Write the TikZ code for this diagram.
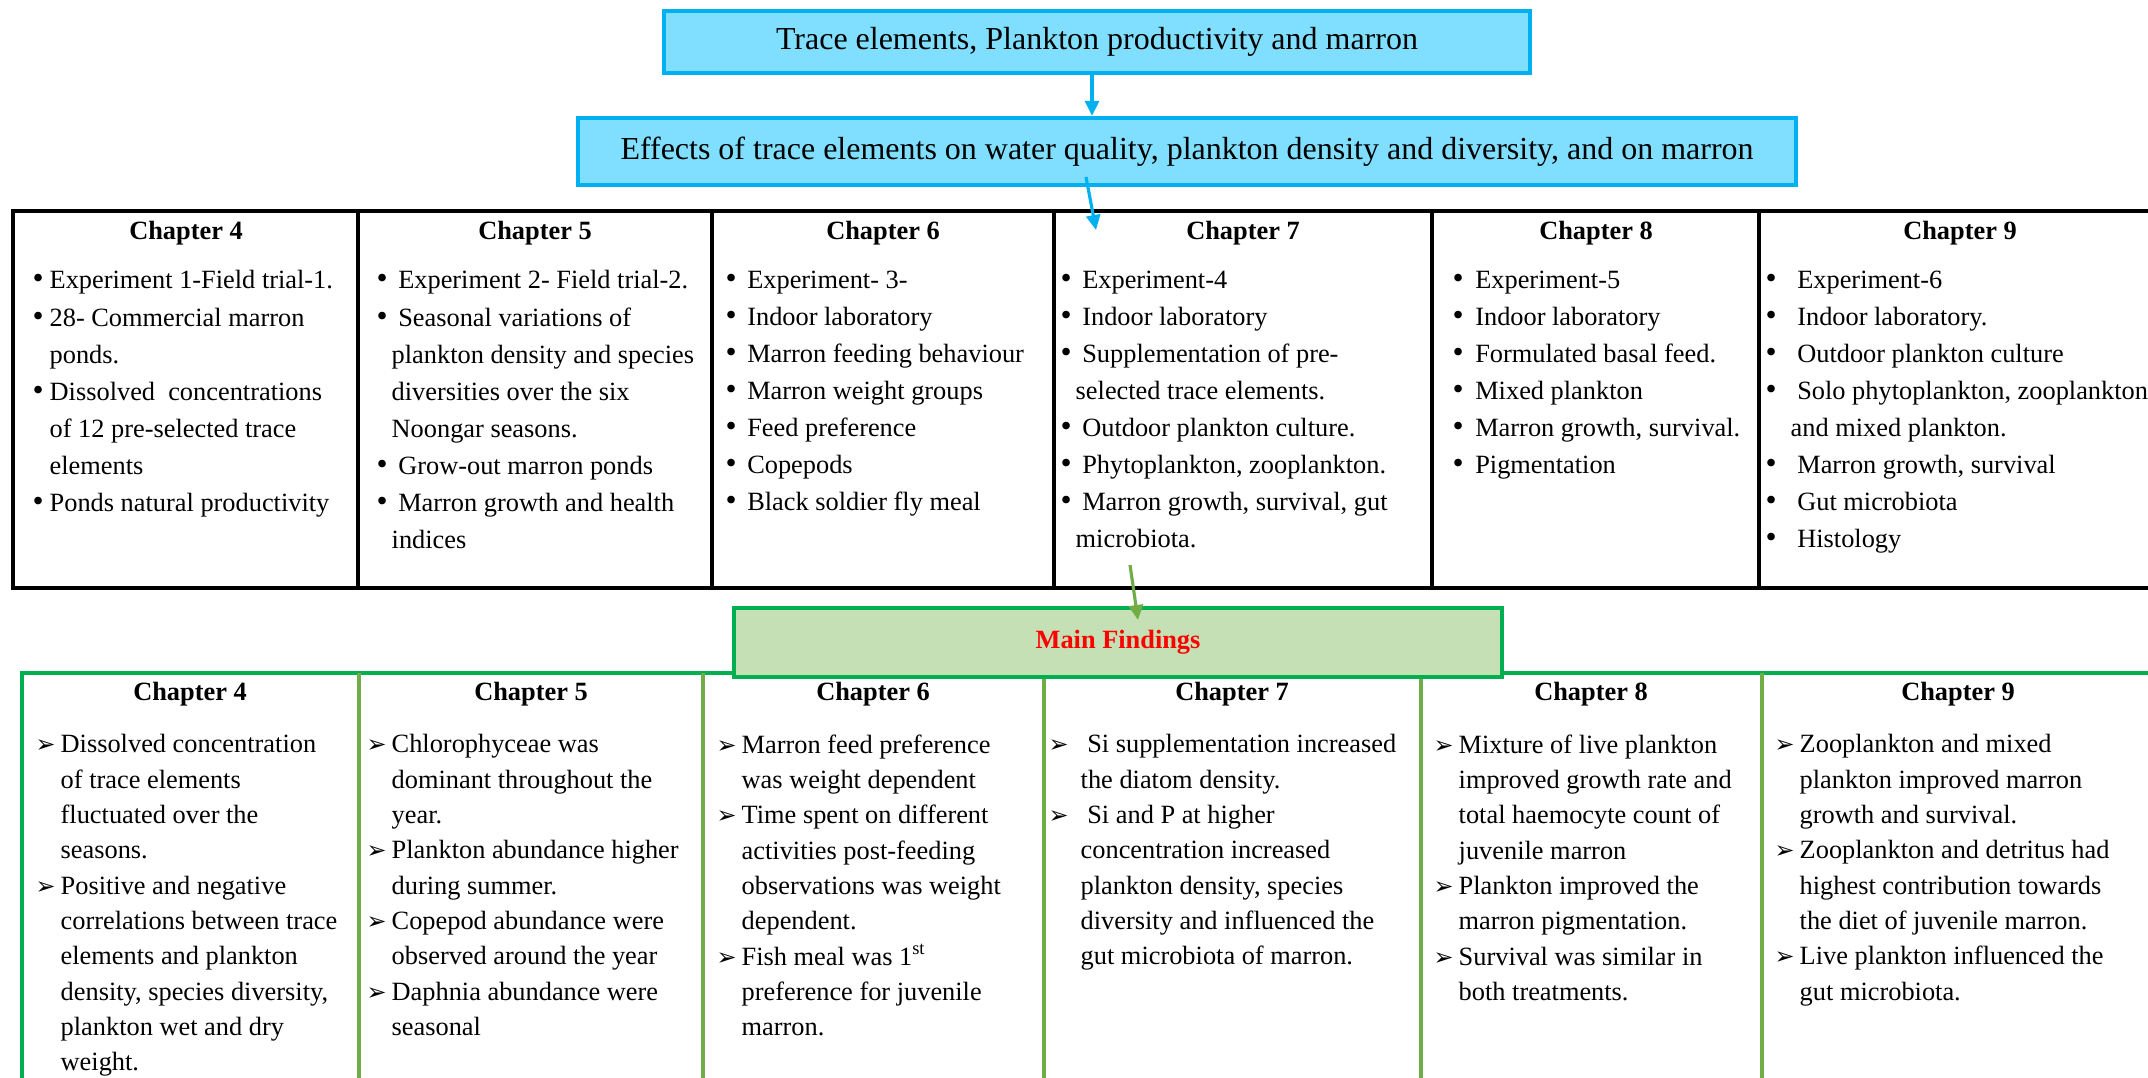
\documentclass[tikz,border=0pt]{standalone}
\usepackage{fontspec}
\setmainfont{Liberation Serif}
\newfontfamily\dingfont{DejaVu Sans}
\usetikzlibrary{arrows.meta}

\definecolor{skyfill}{HTML}{80DFFF}
\definecolor{skyline}{HTML}{00B0F0}
\definecolor{leafline}{HTML}{00B050}
\definecolor{leafdiv}{HTML}{70AD47}
\definecolor{leaffill}{HTML}{C5E0B4}

\newcommand{\bul}[1][0.06cm]{\llap{{\fontsize{9}{9}\selectfont\textbullet}\hspace{#1}}}
\newcommand{\arr}[1][0.05cm]{\llap{{\dingfont\fontsize{6.8}{6.8}\selectfont ➢}\hspace{#1}}}

\tikzset{
  headbox/.style={draw=skyline, line width=1.2pt, fill=skyfill, inner sep=0pt,
    font=\fontsize{9.1}{11}\selectfont},
  chaptitle/.style={anchor=base, inner sep=0pt, font=\bfseries\fontsize{7.5}{9}\selectfont},
  toplist/.style={anchor=north west, align=left, inner sep=0pt,
    font=\fontsize{7.5}{10.55}\selectfont},
  findlist/.style={anchor=north west, align=left, inner sep=0pt,
    font=\fontsize{7.5}{10.05}\selectfont},
  bluearrow/.style={skyline, line width=0.9pt, -{Triangle[length=0.15cm,width=0.14cm]}},
  greenarrow/.style={leafdiv, line width=0.9pt, -{Triangle[length=0.15cm,width=0.14cm]}}
}

\begin{document}
\begin{tikzpicture}
\useasboundingbox (0,0) rectangle (21.48,-10.78);
\clip (0,0) rectangle (21.48,-10.78);

% top boxes
\node[headbox, minimum width=8.66cm, minimum height=0.62cm] (title) at (10.97,-0.42)
  {Trace elements, Plankton productivity and marron};
\node[headbox, minimum width=12.18cm, minimum height=0.67cm] (effects) at (11.87,-1.515)
  {Effects of trace elements on water quality, plankton density and diversity, and on marron};
\draw[bluearrow] ([xshift=-0.05cm]title.south) -- ([xshift=-0.05cm]title.south |- effects.north);

% experiments table
\draw[line width=1.4pt] (0.13,-2.11) rectangle (21.61,-5.88);
\foreach \x in {3.58,7.12,10.54,14.32,17.59}
  \draw[line width=0.9pt] (\x,-2.11) -- (\x,-5.88);
\foreach \x/\n in {1.86/4,5.35/5,8.83/6,12.43/7,15.96/8,19.60/9}
  \node[chaptitle] (exp\n) at (\x,-2.40) {Chapter \n};

\node[toplist] (list4) at (0.49,-2.70) {\bul Experiment 1-Field trial-1.\\
  \bul 28- Commercial marron\\ ponds.\\
  \bul Dissolved\ \ concentrations\\ of 12 pre-selected trace\\ elements\\
  \bul Ponds natural productivity};
\node[toplist] (list5) at (3.91,-2.70) {\bul[0.04cm] Experiment 2- Field trial-2.\\
  \bul[0.04cm] Seasonal variations of\\ plankton density and species\\
  diversities over the six\\ Noongar seasons.\\
  \bul[0.04cm] Grow-out marron ponds\\
  \bul[0.04cm] Marron growth and health\\ indices};
\node[toplist] (list6) at (7.40,-2.70) {\bul[0.04cm] Experiment- 3-\\
  \bul[0.04cm] Indoor laboratory\\
  \bul[0.04cm] Marron feeding behaviour\\
  \bul[0.04cm] Marron weight groups\\
  \bul[0.04cm] Feed preference\\
  \bul[0.04cm] Copepods\\
  \bul[0.04cm] Black soldier fly meal};
\node[toplist] (list7) at (10.75,-2.70) {\bul[0.04cm] Experiment-4\\
  \bul[0.04cm] Indoor laboratory\\
  \bul[0.04cm] Supplementation of pre-\\ selected trace elements.\\
  \bul[0.04cm] Outdoor plankton culture.\\
  \bul[0.04cm] Phytoplankton, zooplankton.\\
  \bul[0.04cm] Marron growth, survival, gut\\ microbiota.};
\node[toplist] (list8) at (14.68,-2.70) {\bul[0.05cm] Experiment-5\\
  \bul[0.05cm] Indoor laboratory\\
  \bul[0.05cm] Formulated basal feed.\\
  \bul[0.05cm] Mixed plankton\\
  \bul[0.05cm] Marron growth, survival.\\
  \bul[0.05cm] Pigmentation};
\node[toplist] (list9) at (17.90,-2.70) {\bul[0.14cm] Experiment-6\\
  \bul[0.14cm] Indoor laboratory.\\
  \bul[0.14cm] Outdoor plankton culture\\
  \bul[0.14cm] Solo phytoplankton, zooplankton\\ and mixed plankton.\\
  \bul[0.14cm] Marron growth, survival\\
  \bul[0.14cm] Gut microbiota\\
  \bul[0.14cm] Histology};

\coordinate (effout) at (10.86,-1.77);
\coordinate (ch7in) at (10.96,-2.30);
\draw[bluearrow] (effout) -- (ch7in);

% findings table
\draw[leafline, line width=1.4pt] (0.22,-11) -- (0.22,-6.73) -- (21.6,-6.73);
\foreach \x in {3.59,7.03,10.44,14.21,17.62}
  \draw[leafdiv, line width=0.9pt] (\x,-6.73) -- (\x,-11);
\node[draw=leafline, line width=1.4pt, fill=leaffill, minimum width=7.68cm, minimum height=0.69cm,
  text=red, font=\bfseries\fontsize{7.5}{9}\selectfont] (findings) at (11.18,-6.425) {Main Findings};
\coordinate (ch7out) at (11.30,-5.65);
\coordinate (findin) at (11.38,-6.20);
\draw[greenarrow] (ch7out) -- (findin);

\foreach \x/\n in {1.90/4,5.31/5,8.73/6,12.32/7,15.91/8,19.58/9}
  \node[chaptitle] (res\n) at (\x,-7.01) {Chapter \n};

\node[findlist] (find4) at (0.60,-7.34) {\arr Dissolved concentration\\ of trace elements\\
  fluctuated over the\\ seasons.\\
  \arr Positive and negative\\ correlations between trace\\ elements and plankton\\
  density, species diversity,\\ plankton wet and dry\\ weight.};
\node[findlist] (find5) at (3.91,-7.34) {\arr Chlorophyceae was\\ dominant throughout the\\ year.\\
  \arr Plankton abundance higher\\ during summer.\\
  \arr Copepod abundance were\\ observed around the year\\
  \arr Daphnia abundance were\\ seasonal};
\node[findlist] (find6) at (7.41,-7.34) {\arr Marron feed preference\\ was weight dependent\\
  \arr Time spent on different\\ activities post-feeding\\ observations was weight\\ dependent.\\
  \arr Fish meal was 1\textsuperscript{st}\\ preference for juvenile\\ marron.};
\node[findlist] (find7) at (10.80,-7.34) {\arr[0.12cm] Si supplementation increased\\ the diatom density.\\
  \arr[0.12cm] Si and P at higher\\ concentration increased\\ plankton density, species\\
  diversity and influenced the\\ gut microbiota of marron.};
\node[findlist] (find8) at (14.58,-7.34) {\arr Mixture of live plankton\\ improved growth rate and\\
  total haemocyte count of\\ juvenile marron\\
  \arr Plankton improved the\\ marron pigmentation.\\
  \arr Survival was similar in\\ both treatments.};
\node[findlist] (find9) at (17.99,-7.34) {\arr Zooplankton and mixed\\ plankton improved marron\\
  growth and survival.\\
  \arr Zooplankton and detritus had\\ highest contribution towards\\ the diet of juvenile marron.\\
  \arr Live plankton influenced the\\ gut microbiota.};
\end{tikzpicture}
\end{document}
